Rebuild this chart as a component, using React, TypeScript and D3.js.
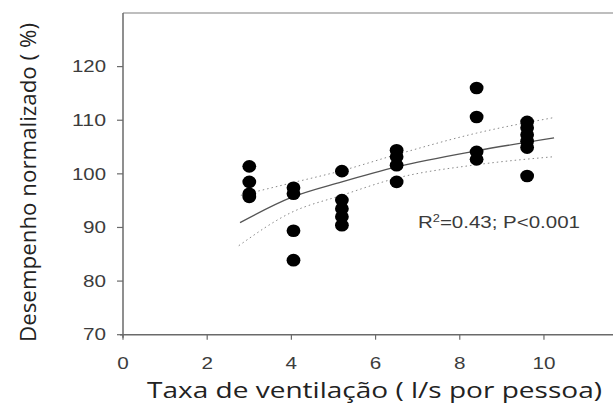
import React from "react";
import * as d3 from "d3";

// observations (x = ventilation rate, y = normalised performance)
const pointX = [
  3, 3, 3, 3,
  4.05, 4.05, 4.05, 4.05,
  5.2, 5.2, 5.2, 5.2, 5.2,
  6.5, 6.5, 6.5, 6.5,
  8.4, 8.4, 8.4, 8.4,
  9.6, 9.6, 9.6, 9.6, 9.6, 9.6,
];
const pointY = [
  101.4, 98.5, 96.3, 95.7,
  97.4, 96.3, 89.4, 83.9,
  100.5, 95.1, 93.5, 92, 90.4,
  104.4, 103.2, 101.6, 98.5,
  116, 110.6, 104.1, 102.7,
  109.7, 108.6, 107.3, 106.1, 104.9, 99.6,
];

// fitted curve and confidence bands
const fitX = [2.78, 4.0, 5.2, 6.5, 8.4, 10.24];
const fitY = [90.9, 95.6, 98.5, 101.3, 104.3, 106.7];
const upperX = [2.8, 4.0, 5.2, 6.5, 8.4, 10.24];
const upperY = [96.0, 98.3, 100.6, 103.6, 107.6, 110.5];
const lowerX = [2.75, 4.0, 5.2, 6.5, 8.4, 10.24];
const lowerY = [86.6, 92.8, 96.0, 99.2, 101.7, 103.2];

const xTicks = [0, 2, 4, 6, 8, 10];
const yTicks = [70, 80, 90, 100, 110, 120];

const W = 613;
const H = 405;

const App: React.FC = () => {
  const x = d3.scaleLinear().domain([0, 11.64]).range([123, 613]);
  const y = d3.scaleLinear().domain([70, 130]).range([334.7, 13]);

  const line = d3
    .line<[number, number]>()
    .x((d) => x(d[0]))
    .y((d) => y(d[1]))
    .curve(d3.curveMonotoneX);

  const zip = (a: number[], b: number[]) => a.map((v, i) => [v, b[i]] as [number, number]);

  const axisColor = "#6a6a6a";
  const tickText = "#3c3c3c";

  return (
    <svg
      width={W}
      height={H}
      style={{ position: "absolute", left: 0, top: 0, background: "#fff" }}
    >
      {/* frame top + axes */}
      <line x1={x(0)} x2={W} y1={y(130)} y2={y(130)} stroke="#a8a8a8" strokeWidth={1.5} />
      <line x1={x(0)} x2={x(0)} y1={y(130)} y2={y(70) + 3} stroke={axisColor} strokeWidth={1.5} />
      <line x1={x(0) - 3} x2={W} y1={y(70)} y2={y(70)} stroke={axisColor} strokeWidth={1.5} />

      {yTicks.map((t) => (
        <g key={"y" + t}>
          <line x1={x(0) - 6} x2={x(0)} y1={y(t)} y2={y(t)} stroke={axisColor} strokeWidth={1.2} />
          <text
            x={106}
            y={y(t)}
            dy="0.36em"
            textAnchor="end"
            fontFamily="Liberation Sans, Arial, sans-serif"
            fontSize={16}
            fill={tickText}
            textLength={t >= 100 ? 34 : 23}
            lengthAdjust="spacingAndGlyphs"
          >
            {t}
          </text>
        </g>
      ))}

      {xTicks.map((t) => (
        <g key={"x" + t}>
          <line x1={x(t)} x2={x(t)} y1={y(70)} y2={y(70) + 5} stroke={axisColor} strokeWidth={1.2} />
          <text
            x={x(t)}
            y={369}
            textAnchor="middle"
            fontFamily="Liberation Sans, Arial, sans-serif"
            fontSize={16.5}
            fill={tickText}
            textLength={t >= 10 ? 23 : 11.5}
            lengthAdjust="spacingAndGlyphs"
          >
            {t}
          </text>
        </g>
      ))}

      {/* axis titles */}
      <text
        x={147}
        y={398}
        fontFamily="Open Sans, sans-serif"
        fontSize={21}
        fill="#222"
        textLength={455}
        lengthAdjust="spacingAndGlyphs"
      >
        Taxa de ventilação ( l/s por pessoa)
      </text>
      <text
        transform={`translate(36,342) rotate(-90)`}
        fontFamily="Open Sans, sans-serif"
        fontSize={21}
        fill="#222"
        textLength={319}
        lengthAdjust="spacingAndGlyphs"
      >
        Desempenho normalizado ( %)
      </text>

      {/* confidence bands */}
      <path d={line(zip(upperX, upperY)) || ""} fill="none" stroke="#8a8a8a" strokeWidth={1} strokeDasharray="1.5,3" />
      <path d={line(zip(lowerX, lowerY)) || ""} fill="none" stroke="#8a8a8a" strokeWidth={1} strokeDasharray="1.5,3" />
      {/* fitted curve */}
      <path d={line(zip(fitX, fitY)) || ""} fill="none" stroke="#555" strokeWidth={1.3} />

      {/* points */}
      {pointX.map((px, i) => (
        <ellipse key={"p" + i} cx={x(px)} cy={y(pointY[i])} rx={6.9} ry={6.3} fill="#000" />
      ))}

      {/* statistic */}
      <text
        x={418}
        y={228}
        fontFamily="Liberation Sans, Arial, sans-serif"
        fontSize={16}
        fill="#3a3a3a"
        textLength={162}
        lengthAdjust="spacingAndGlyphs"
      >
        R<tspan fontSize={10} dy={-6}>2</tspan>
        <tspan dy={6}>=0.43; P&lt;0.001</tspan>
      </text>
    </svg>
  );
};

export default App;
